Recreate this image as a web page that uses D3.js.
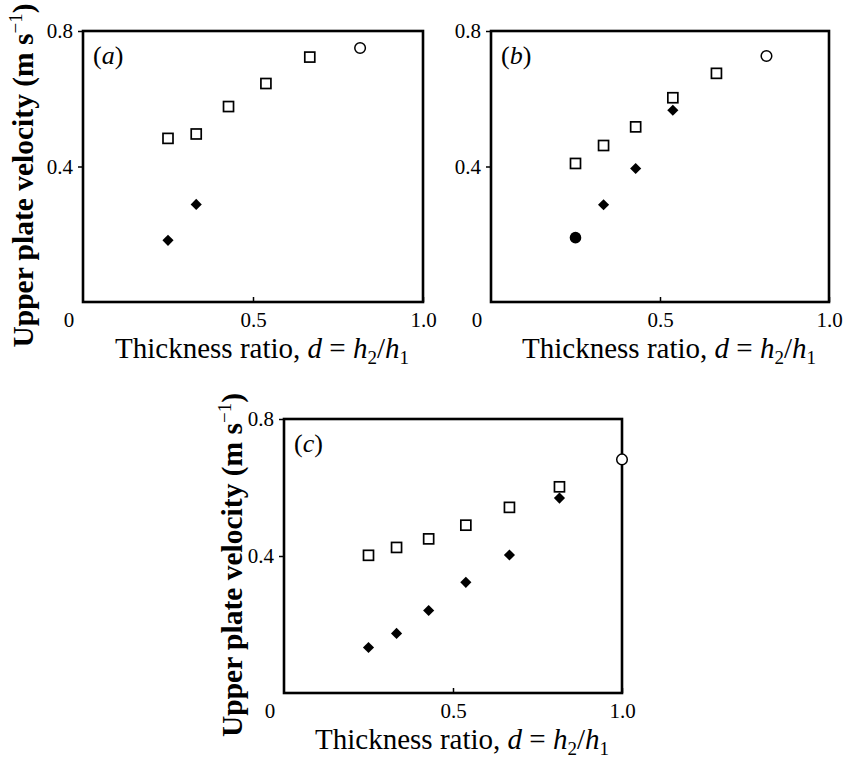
<!DOCTYPE html>
<html>
<head>
<meta charset="utf-8">
<script src="https://cdn.jsdelivr.net/npm/d3@7"></script>
<style>
  html, body { margin: 0; padding: 0; background: #fff; }
  svg { display: block; }
  text { font-family: "Liberation Serif", "Times New Roman", serif; fill: #000; }
</style>
</head>
<body>
<svg id="chart" width="844" height="760"></svg>
<script>
// ---------------- DATA ----------------
const panelLabels = ["a", "b", "c"];
const xTickValues = [0.5, 1.0];
const xTickLabels = ["0.5", "1.0"];
const yTickValues = [0.4, 0.8];
const yTickLabels = ["0.4", "0.8"];

// Panel (a)
const aSquareD = [0.25, 0.333, 0.428, 0.538, 0.667];
const aSquareV = [0.483, 0.496, 0.577, 0.645, 0.723];
const aOpenCircleD = [0.815];
const aOpenCircleV = [0.750];
const aDiamondD = [0.25, 0.333];
const aDiamondV = [0.182, 0.288];
const aFilledCircleD = [];
const aFilledCircleV = [];

// Panel (b)
const bSquareD = [0.25, 0.333, 0.428, 0.538, 0.667];
const bSquareV = [0.409, 0.462, 0.517, 0.603, 0.675];
const bOpenCircleD = [0.815];
const bOpenCircleV = [0.726];
const bDiamondD = [0.333, 0.428, 0.538];
const bDiamondV = [0.287, 0.394, 0.566];
const bFilledCircleD = [0.25];
const bFilledCircleV = [0.19];

// Panel (c)
const cSquareD = [0.25, 0.333, 0.428, 0.538, 0.667, 0.815];
const cSquareV = [0.402, 0.425, 0.450, 0.490, 0.542, 0.602];
const cOpenCircleD = [1.0];
const cOpenCircleV = [0.682];
const cDiamondD = [0.25, 0.333, 0.428, 0.538, 0.667, 0.815];
const cDiamondV = [0.133, 0.174, 0.241, 0.323, 0.403, 0.569];
const cFilledCircleD = [];
const cFilledCircleV = [];

// ---------------- LAYOUT ----------------
const zip = (xs, ys) => xs.map((x, i) => ({ d: x, v: ys[i] }));
const panels = [
  { label: panelLabels[0], left: 83, top: 31, width: 340, height: 271, yLabel: true, yLabelOff: 50,
    squares: zip(aSquareD, aSquareV), open: zip(aOpenCircleD, aOpenCircleV),
    diamonds: zip(aDiamondD, aDiamondV), filled: zip(aFilledCircleD, aFilledCircleV) },
  { label: panelLabels[1], left: 491, top: 31, width: 338, height: 271, yLabel: false,
    squares: zip(bSquareD, bSquareV), open: zip(bOpenCircleD, bOpenCircleV),
    diamonds: zip(bDiamondD, bDiamondV), filled: zip(bFilledCircleD, bFilledCircleV) },
  { label: panelLabels[2], left: 284, top: 419, width: 338, height: 274, yLabel: true, yLabelOff: 42,
    squares: zip(cSquareD, cSquareV), open: zip(cOpenCircleD, cOpenCircleV),
    diamonds: zip(cDiamondD, cDiamondV), filled: zip(cFilledCircleD, cFilledCircleV) }
];

const svg = d3.select("#chart");

panels.forEach(p => {
  const g = svg.append("g").attr("transform", `translate(${p.left},${p.top})`);
  const x = d3.scaleLinear().domain([0, 1]).range([0, p.width]);
  const y = d3.scaleLinear().domain([0, 0.8]).range([p.height, 0]);

  // Y axis ticks
  const yAxis = d3.axisLeft(y).tickValues(yTickValues)
    .tickFormat((d, i) => yTickLabels[i]).tickSize(5).tickPadding(5);
  const yg = g.append("g").call(yAxis);
  yg.attr("font-family", null).attr("font-size", null);
  yg.select(".domain").remove();
  yg.selectAll("line").attr("stroke", "#000").attr("stroke-width", 1.5);
  yg.selectAll("text").style("font-family", '"Liberation Serif", serif').style("font-size", "21px").attr("fill", "#000");

  // X axis ticks (inward)
  const xAxis = d3.axisBottom(x).tickValues(xTickValues)
    .tickFormat((d, i) => xTickLabels[i]).tickSizeInner(-5).tickSizeOuter(0).tickPadding(10);
  const xg = g.append("g").attr("transform", `translate(0,${p.height})`).call(xAxis);
  xg.attr("font-family", null).attr("font-size", null);
  xg.select(".domain").remove();
  xg.selectAll("line").attr("stroke", "#000").attr("stroke-width", 1.5);
  xg.selectAll("text").style("font-family", '"Liberation Serif", serif').style("font-size", "21px").attr("fill", "#000");

  // Corner zero label
  g.append("text").attr("x", x(0) - 14).attr("y", p.height + 25)
    .attr("text-anchor", "middle").style("font-size", "21px").text("0");

  // Frame
  g.append("rect").attr("x", 0).attr("y", 0).attr("width", p.width).attr("height", p.height)
    .attr("fill", "none").attr("stroke", "#000").attr("stroke-width", 2.6);

  // Panel label
  const pl = g.append("text").attr("x", 10).attr("y", 33).style("font-size", "26px");
  pl.append("tspan").text("(");
  pl.append("tspan").style("font-style", "italic").text(p.label);
  pl.append("tspan").text(")");

  // X-axis title
  const xt = g.append("text").attr("x", p.width / 2 + 9).attr("y", p.height + 56)
    .attr("text-anchor", "middle").style("font-size", "29px");
  xt.append("tspan").text("Thickness ratio, ");
  xt.append("tspan").style("font-style", "italic").text("d");
  xt.append("tspan").text(" = ");
  xt.append("tspan").style("font-style", "italic").text("h");
  xt.append("tspan").attr("dy", 6).style("font-size", "19px").text("2");
  xt.append("tspan").attr("dy", -6).text("/");
  xt.append("tspan").style("font-style", "italic").text("h");
  xt.append("tspan").attr("dy", 6).style("font-size", "19px").text("1");

  // Y-axis title
  if (p.yLabel) {
    const yt = g.append("text")
      .attr("transform", `translate(${-p.yLabelOff},${p.height / 2 + 9}) rotate(-90)`)
      .attr("text-anchor", "middle").style("font-size", "29.5px").style("font-weight", "bold");
    yt.append("tspan").text("Upper plate velocity (m s");
    yt.append("tspan").attr("dy", -11).style("font-size", "19px").style("font-weight", "normal").text("\u22121");
    yt.append("tspan").attr("dy", 11).text(")");
  }

  // Markers
  const sq = 10;
  g.selectAll(".sq").data(p.squares).enter().append("rect")
    .attr("x", d => x(d.d) - sq / 2).attr("y", d => y(d.v) - sq / 2)
    .attr("width", sq).attr("height", sq)
    .attr("fill", "#fff").attr("stroke", "#000").attr("stroke-width", 1.7);

  g.selectAll(".oc").data(p.open).enter().append("circle")
    .attr("cx", d => x(d.d)).attr("cy", d => y(d.v)).attr("r", 5.3)
    .attr("fill", "#fff").attr("stroke", "#000").attr("stroke-width", 1.5);

  const dia = d3.symbol().type(d3.symbolSquare).size(62);
  g.selectAll(".dm").data(p.diamonds).enter().append("path")
    .attr("d", dia)
    .attr("transform", d => `translate(${x(d.d)},${y(d.v)}) rotate(45)`)
    .attr("fill", "#000");

  g.selectAll(".fc").data(p.filled).enter().append("circle")
    .attr("cx", d => x(d.d)).attr("cy", d => y(d.v)).attr("r", 5.8)
    .attr("fill", "#000");
});
</script>
</body>
</html>
